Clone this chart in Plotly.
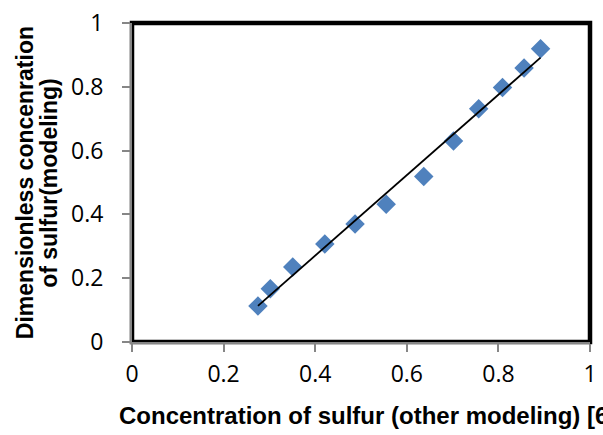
import numpy as np
import plotly.graph_objects as go

# Data
x_other = [0.275, 0.302, 0.351, 0.421, 0.487, 0.555, 0.637, 0.702, 0.757, 0.809, 0.856, 0.892]
y_model = [0.113, 0.167, 0.235, 0.307, 0.370, 0.432, 0.519, 0.630, 0.731, 0.798, 0.859, 0.919]
tick_vals = [0, 0.2, 0.4, 0.6, 0.8, 1]
tick_text = ["0", "0.2", "0.4", "0.6", "0.8", "1"]
x_title = "Concentration of sulfur (other modeling) [6]"
y_title_lines = ["Dimensionless concenration", "of sulfur(modeling)"]

# linear trendline from the data
slope, intercept = np.polyfit(x_other, y_model, 1)
x_fit = [min(x_other), max(x_other)]
y_fit = [slope * v + intercept for v in x_fit]

W, H = 603, 435
L, R, T, B = 132, 6, 17, 93
pw, ph = W - L - R, H - T - B

fig = go.Figure()
fig.add_trace(go.Scatter(
    x=x_other, y=y_model, mode="markers",
    marker=dict(symbol="diamond", size=15, color="#4F81BD", line=dict(width=0)),
    showlegend=False, hoverinfo="x+y"))
fig.add_trace(go.Scatter(
    x=x_fit, y=y_fit, mode="lines",
    line=dict(color="black", width=1.8),
    showlegend=False, hoverinfo="skip"))

tick_font = dict(family="Open Sans, Liberation Sans, sans-serif", size=23, color="#000000")
axis_common = dict(
    range=[0, 1], tickmode="array", tickvals=tick_vals, ticktext=tick_text,
    showgrid=False, zeroline=False, showline=True, linecolor="#868686", linewidth=2,
    ticks="outside", ticklen=8, tickwidth=1.5, tickcolor="#868686",
    tickfont=tick_font, fixedrange=True, ticklabeloverflow="allow",
)
fig.update_xaxes(**axis_common, ticklabelstandoff=2)
fig.update_yaxes(**axis_common, ticklabelstandoff=14)

# plot area border
fig.add_shape(type="rect", xref="paper", yref="paper", x0=0, x1=1, y0=0, y1=1,
              line=dict(color="black", width=4.5), layer="below")

title_font = dict(family="Liberation Sans, Arial, sans-serif", size=23, color="#000000")
fig.add_annotation(text="<b>" + x_title + "</b>", xref="paper", yref="paper",
                   x=(117 - L) / pw, y=(T + ph - 417) / ph,
                   xanchor="left", yanchor="middle", showarrow=False,
                   font=dict(title_font, size=24))
for cx, line in zip([23, 47], y_title_lines):
    fig.add_annotation(text="<b>" + line + "</b>", xref="paper", yref="paper",
                       x=(cx - L) / pw, y=0.5, textangle=-90,
                       xanchor="center", yanchor="middle", showarrow=False, font=title_font)

fig.update_layout(
    width=W, height=H, margin=dict(l=L, r=R, t=T, b=B, pad=0),
    paper_bgcolor="white", plot_bgcolor="white",
)
fig.write_html("out.html")
